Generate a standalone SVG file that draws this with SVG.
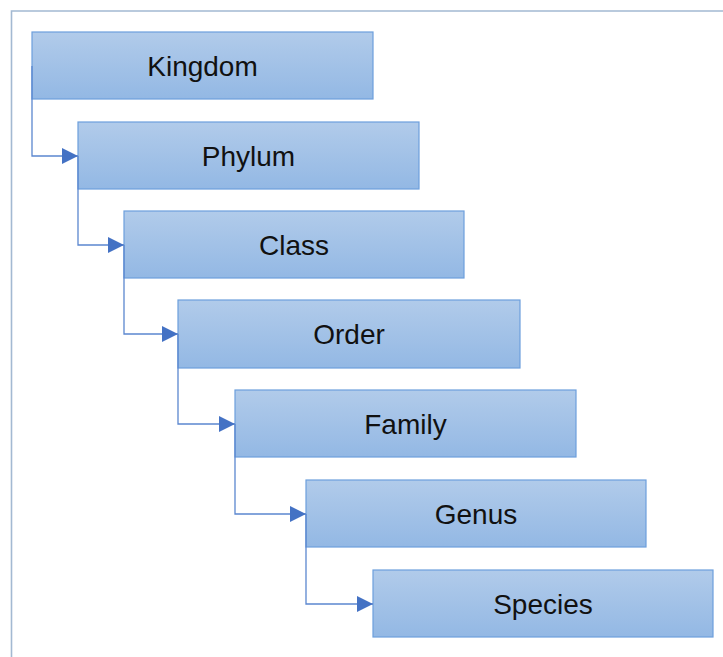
<svg xmlns="http://www.w3.org/2000/svg" width="723" height="657" viewBox="0 0 723 657">
  <defs>
    <linearGradient id="boxFill" x1="0" y1="0" x2="0" y2="1">
      <stop offset="0" stop-color="#b1cbea"/>
      <stop offset="1" stop-color="#93b8e4"/>
    </linearGradient>
    <marker id="arrow" viewBox="0 0 16 16" refX="16" refY="8" markerWidth="16" markerHeight="16" markerUnits="userSpaceOnUse" orient="auto">
      <path d="M0,0 L16,8 L0,16 Z" fill="#4472c4"/>
    </marker>
  </defs>
  <style>
    .box { fill: url(#boxFill); stroke: #6d9fdc; stroke-width: 1.2; }
    .label { font-family: "Liberation Sans", Arial, sans-serif; font-size: 28px; fill: #111; text-anchor: middle; }
    .link { fill: none; stroke: #5b87cf; stroke-width: 1.3; marker-end: url(#arrow); }
    .frame { fill: none; stroke: #a3b9d2; stroke-width: 1.6; }
  </style>
  <rect width="723" height="657" fill="#ffffff"/>
  <!-- outer frame (open on right and bottom) -->
  <path class="frame" d="M11.5,657 L11.5,11 L723,11"/>

  <g id="kingdom">
    <rect class="box" x="32" y="32" width="341" height="67"/>
    <text class="label" x="202.5" y="76">Kingdom</text>
  </g>
  <g id="phylum">
    <rect class="box" x="78" y="122" width="341" height="67"/>
    <text class="label" x="248.5" y="166">Phylum</text>
  </g>
  <g id="class">
    <rect class="box" x="124" y="211" width="340" height="67"/>
    <text class="label" x="294" y="255">Class</text>
  </g>
  <g id="order">
    <rect class="box" x="178" y="300" width="342" height="68"/>
    <text class="label" x="349" y="344">Order</text>
  </g>
  <g id="family">
    <rect class="box" x="235" y="390" width="341" height="67"/>
    <text class="label" x="405.5" y="434">Family</text>
  </g>
  <g id="genus">
    <rect class="box" x="306" y="480" width="340" height="67"/>
    <text class="label" x="476" y="524">Genus</text>
  </g>
  <g id="species">
    <rect class="box" x="373" y="570" width="340" height="67"/>
    <text class="label" x="543" y="614">Species</text>
  </g>

  <g id="connectors">
    <path class="link" d="M32,66 V156 H78"/>
    <path class="link" d="M78,156 V245 H124"/>
    <path class="link" d="M124,245 V334 H178"/>
    <path class="link" d="M178,334 V424 H235"/>
    <path class="link" d="M235,424 V514 H306"/>
    <path class="link" d="M306,514 V604 H373"/>
  </g>
</svg>
